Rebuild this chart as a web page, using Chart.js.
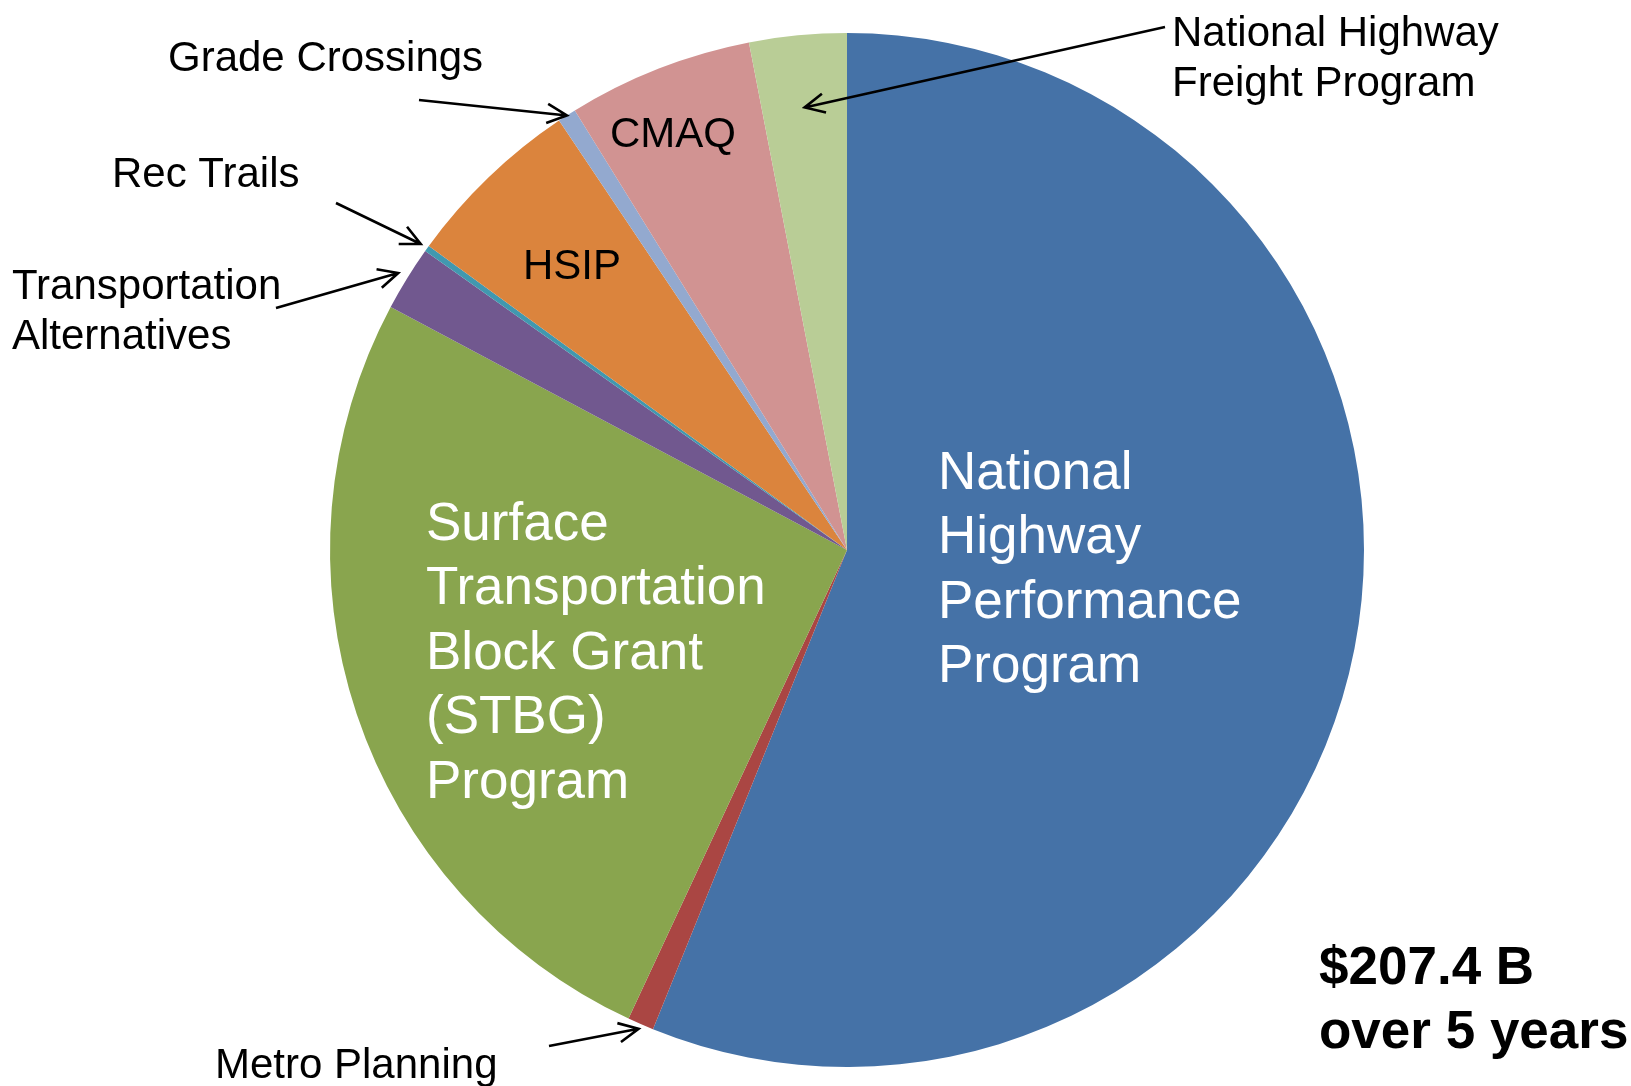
<!DOCTYPE html>
<html>
<head>
<meta charset="utf-8">
<script src="https://cdn.jsdelivr.net/npm/chart.js@4.4.0/dist/chart.umd.min.js"></script>
<style>
  html, body { margin: 0; padding: 0; background: #fff; }
  canvas { display: block; }
</style>
</head>
<body>
<canvas id="fundingPie" width="1631" height="1086"></canvas>
<script>
// FAST Act apportioned programs, $ billions over 5 years
const categories = [
  "National Highway Performance Program",
  "Metro Planning",
  "Surface Transportation Block Grant (STBG) Program",
  "Transportation Alternatives",
  "Rec Trails",
  "HSIP",
  "Grade Crossings",
  "CMAQ",
  "National Highway Freight Program",
];
const funding = [116.4, 1.7, 53.6, 4.2, 0.4, 11.6, 1.2, 12.0, 6.3];
const sliceColors = [
  "#4572A7", "#AA4643", "#89A54E", "#71588F", "#4198AF",
  "#DB843D", "#93A9CF", "#D19392", "#B9CD96",
];
const totalLabel = ["$207.4 B", "over 5 years"];

const FONT = '"Liberation Sans", Arial, sans-serif';

// labels drawn on top of the slices
const insideLabels = [
  { idx: 0, lines: ["National", "Highway", "Performance", "Program"], x: 938, y: 474, size: 53, color: "#fff", align: "left" },
  { idx: 2, lines: ["Surface", "Transportation", "Block Grant", "(STBG)", "Program"], x: 426, y: 525, size: 53, color: "#fff", align: "left" },
  { idx: 5, lines: ["HSIP"], x: 572, y: 267, size: 42, color: "#000", align: "center" },
  { idx: 7, lines: ["CMAQ"], x: 673, y: 135, size: 42, color: "#000", align: "center" },
];

// labels outside with an arrow pointing at the slice
const calloutLabels = [
  { idx: 8, lines: ["National Highway", "Freight Program"], x: 1172, y: 34, tail: [1165, 27], reach: 0.86 },
  { idx: 6, lines: ["Grade Crossings"], x: 168, y: 59, tail: [419, 100], reach: 1.0 },
  { idx: 4, lines: ["Rec Trails"], x: 112, y: 175, tail: [336, 203], reach: 1.015 },
  { idx: 3, lines: ["Transportation", "Alternatives"], x: 12, y: 287, tail: [276, 308], reach: 1.02 },
  { idx: 1, lines: ["Metro Planning"], x: 215, y: 1066, tail: [549, 1046], reach: 1.01 },
];

function drawArrow(ctx, x1, y1, x2, y2) {
  const ang = Math.atan2(y2 - y1, x2 - x1);
  const head = 22;
  ctx.beginPath();
  ctx.moveTo(x1, y1);
  ctx.lineTo(x2, y2);
  ctx.moveTo(x2 - head * Math.cos(ang - 0.45), y2 - head * Math.sin(ang - 0.45));
  ctx.lineTo(x2, y2);
  ctx.lineTo(x2 - head * Math.cos(ang + 0.45), y2 - head * Math.sin(ang + 0.45));
  ctx.stroke();
}

const labelPlugin = {
  id: "pieLabels",
  afterDraw(chart) {
    const ctx = chart.ctx;
    const arcs = chart.getDatasetMeta(0).data;
    ctx.save();
    ctx.textBaseline = "middle";

    insideLabels.forEach((lab) => {
      ctx.font = `${lab.size}px ${FONT}`;
      ctx.fillStyle = lab.color;
      ctx.textAlign = lab.align;
      const lh = 64.5;
      lab.lines.forEach((t, i) => ctx.fillText(t, lab.x, lab.y + i * (lab.size > 50 ? lh : 50)));
    });

    ctx.font = `42px ${FONT}`;
    ctx.fillStyle = "#000";
    ctx.textAlign = "left";
    ctx.strokeStyle = "#000";
    ctx.lineWidth = 2.6;
    calloutLabels.forEach((lab) => {
      lab.lines.forEach((t, i) => ctx.fillText(t, lab.x, lab.y + i * 50));
      const arc = arcs[lab.idx];
      const mid = (arc.startAngle + arc.endAngle) / 2;
      const r = arc.outerRadius * lab.reach;
      drawArrow(ctx, lab.tail[0], lab.tail[1], arc.x + r * Math.cos(mid), arc.y + r * Math.sin(mid));
    });

    ctx.font = `bold 53px ${FONT}`;
    totalLabel.forEach((t, i) => ctx.fillText(t, 1319, 969 + i * 64));
    ctx.restore();
  },
};

new Chart(document.getElementById("fundingPie").getContext("2d"), {
  type: "pie",
  data: {
    labels: categories,
    datasets: [
      {
        data: funding,
        backgroundColor: sliceColors,
        borderWidth: 0,
      },
    ],
  },
  options: {
    responsive: false,
    animation: false,
    devicePixelRatio: 1,
    layout: { padding: { left: 330, right: 267, top: 33, bottom: 19 } },
    plugins: {
      legend: { display: false },
      tooltip: { enabled: false },
    },
  },
  plugins: [labelPlugin],
});
</script>
</body>
</html>
